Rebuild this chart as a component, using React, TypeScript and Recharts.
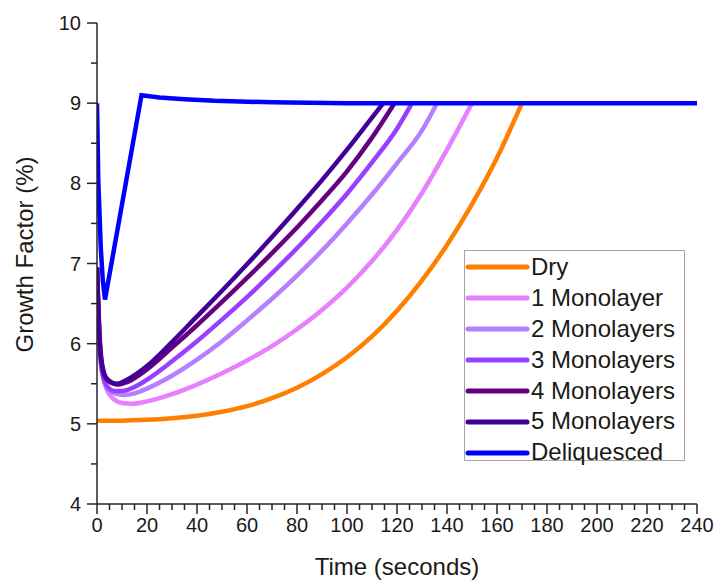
import React from 'react';
import { LineChart, Line, XAxis, YAxis, Legend, Label } from 'recharts';

// ---- Data (time in seconds, growth factor in %) ----
const dry = [[0,5.04],[10,5.04],[20,5.05],[30,5.07],[40,5.1],[50,5.15],[60,5.22],[70,5.32],[80,5.45],[90,5.62],[100,5.83],[110,6.09],[120,6.41],[130,6.79],[140,7.23],[150,7.74],[160,8.32],[170,9.0]];
const mono1 = [[0,6.95],[1,6.15],[2,5.72],[4,5.42],[7,5.3],[10,5.26],[14,5.25],[20,5.28],[30,5.37],[40,5.49],[50,5.63],[60,5.79],[70,5.97],[80,6.18],[90,6.42],[100,6.7],[110,7.03],[120,7.42],[130,7.88],[140,8.42],[150,9.0]];
const mono2 = [[0,6.95],[1,6.05],[2,5.65],[4,5.45],[7,5.38],[11,5.36],[15,5.38],[20,5.44],[30,5.6],[40,5.8],[50,6.03],[60,6.29],[70,6.56],[80,6.85],[90,7.16],[100,7.5],[110,7.86],[120,8.25],[130,8.66],[136,9.0]];
const mono3 = [[0,6.95],[1,6.0],[2,5.65],[4,5.47],[7,5.41],[10,5.41],[15,5.46],[20,5.55],[30,5.78],[40,6.03],[50,6.3],[60,6.58],[70,6.88],[80,7.19],[90,7.52],[100,7.87],[110,8.26],[120,8.68],[126,9.0]];
const mono4 = [[0,6.95],[1,6.05],[2,5.72],[4,5.55],[8,5.49],[12,5.52],[20,5.68],[30,5.95],[40,6.23],[50,6.52],[60,6.82],[70,7.13],[80,7.45],[90,7.79],[100,8.15],[110,8.57],[119,9.0]];
const mono5 = [[0,6.95],[1,6.1],[2,5.75],[4,5.56],[8,5.5],[12,5.55],[20,5.72],[30,6.02],[40,6.34],[50,6.66],[60,6.99],[70,7.33],[80,7.68],[90,8.04],[100,8.42],[110,8.82],[114.5,9.0]];
const deliquesced = [[0,9.0],[0.5,8.05],[1.5,7.2],[2.3,6.8],[3.2,6.55],[17.8,9.1],[25,9.07],[35,9.05],[47,9.03],[70,9.01],[100,9.0],[240,9.0]];

const seriesNames = ['Dry', '1 Monolayer', '2 Monolayers', '3 Monolayers', '4 Monolayers', '5 Monolayers', 'Deliquesced'];
const seriesColors = ['#FF8000', '#E680FF', '#B380FF', '#9940FF', '#660080', '#420099', '#0000FF'];
const seriesData = [dry, mono1, mono2, mono3, mono4, mono5, deliquesced];
const seriesCurve = ['monotone', 'monotone', 'monotone', 'monotone', 'monotone', 'monotone', 'linear'];

const xTicks = [0,5,10,15,20,25,30,35,40,45,50,55,60,65,70,75,80,85,90,95,100,105,110,115,120,125,130,135,140,145,150,155,160,165,170,175,180,185,190,195,200,205,210,215,220,225,230,235,240];
const xMajorStep = 20;
const yTicks = [4,4.5,5,5.5,6,6.5,7,7.5,8,8.5,9,9.5,10];

const FONT = '"Liberation Sans", Arial, Helvetica, sans-serif';
const AXIS_COLOR = '#262626';
const TEXT_COLOR = '#1a1a1a';

const YTick = (props: any) => {
  const { x, y, payload } = props;
  const major = Number.isInteger(payload.value);
  return (
    <g>
      <line x1={x} x2={x - (major ? 10 : 6)} y1={y} y2={y} stroke={AXIS_COLOR} strokeWidth={1.5} />
      {major && (
        <text x={x - 16} y={y} textAnchor="end" dominantBaseline="central" fontFamily={FONT} fontSize={20} fill={TEXT_COLOR}>
          {payload.value}
        </text>
      )}
    </g>
  );
};

const XTick = (props: any) => {
  const { x, y, payload } = props;
  const major = payload.value % xMajorStep === 0;
  return (
    <g>
      <line x1={x} x2={x} y1={y} y2={y + (major ? 10 : 6)} stroke={AXIS_COLOR} strokeWidth={1.5} />
      {major && (
        <text x={x} y={y + 28} textAnchor="middle" fontFamily={FONT} fontSize={20} fill={TEXT_COLOR}>
          {payload.value}
        </text>
      )}
    </g>
  );
};

const YTitle = (props: any) => {
  const vb = props.viewBox;
  const cx = vb.x + 24;
  const cy = vb.y + vb.height / 2 - 9;
  return (
    <text x={cx} y={cy} transform={`rotate(-90 ${cx} ${cy})`} textAnchor="middle" dominantBaseline="central" fontFamily={FONT} fontSize={24} fill={TEXT_COLOR}>
      Growth Factor (%)
    </text>
  );
};

const XTitle = (props: any) => {
  const vb = props.viewBox;
  return (
    <text x={vb.x + vb.width / 2} y={vb.y + 71} textAnchor="middle" fontFamily={FONT} fontSize={24} fill={TEXT_COLOR}>
      Time (seconds)
    </text>
  );
};

const LegendBox = () => (
  <div style={{ width: 219, height: 208, border: '1px solid #a6a6a6', background: '#fff', paddingTop: 1, boxSizing: 'content-box' }}>
    {seriesNames.map((name, i) => (
      <div key={name} style={{ display: 'flex', alignItems: 'center', height: 30.9, fontFamily: FONT, fontSize: 24, color: TEXT_COLOR, whiteSpace: 'nowrap' }}>
        <svg width={66} height={10} style={{ flex: 'none' }}>
          <line x1={3} x2={62} y1={5} y2={5} stroke={seriesColors[i]} strokeWidth={5} strokeLinecap="round" />
        </svg>
        <span style={{ lineHeight: '30.9px' }}>{name}</span>
      </div>
    ))}
  </div>
);

export default function App() {
  return (
    <div style={{ position: 'absolute', left: 0, top: 0, width: 716, height: 581, background: '#fff' }}>
      <LineChart width={716} height={581} margin={{ top: 23, right: 19, bottom: 17, left: 0 }}>
        <XAxis
          type="number"
          dataKey="t"
          domain={[0, 240]}
          ticks={xTicks}
          interval={0}
          allowDataOverflow
          height={60}
          tickSize={0}
          tickMargin={0}
          tickLine={false}
          tick={<XTick />}
          axisLine={{ stroke: AXIS_COLOR, strokeWidth: 1.5 }}
        >
          <Label content={<XTitle />} />
        </XAxis>
        <YAxis
          type="number"
          domain={[4, 10]}
          ticks={yTicks}
          interval={0}
          allowDataOverflow
          width={97}
          tickSize={0}
          tickMargin={0}
          tickLine={false}
          tick={<YTick />}
          axisLine={{ stroke: AXIS_COLOR, strokeWidth: 1.5 }}
        >
          <Label content={<YTitle />} />
        </YAxis>
        <Legend
          layout="vertical"
          align="center"
          verticalAlign="middle"
          wrapperStyle={{ left: 464, top: 250, width: 'auto' }}
          content={<LegendBox />}
        />
        {seriesData.map((s, i) => (
          <Line
            key={seriesNames[i]}
            name={seriesNames[i]}
            data={s.map(([t, v]) => ({ t, v }))}
            dataKey="v"
            type={seriesCurve[i] as any}
            stroke={seriesColors[i]}
            strokeWidth={4.5}
            dot={false}
            activeDot={false}
            isAnimationActive={false}
          />
        ))}
      </LineChart>
    </div>
  );
}
